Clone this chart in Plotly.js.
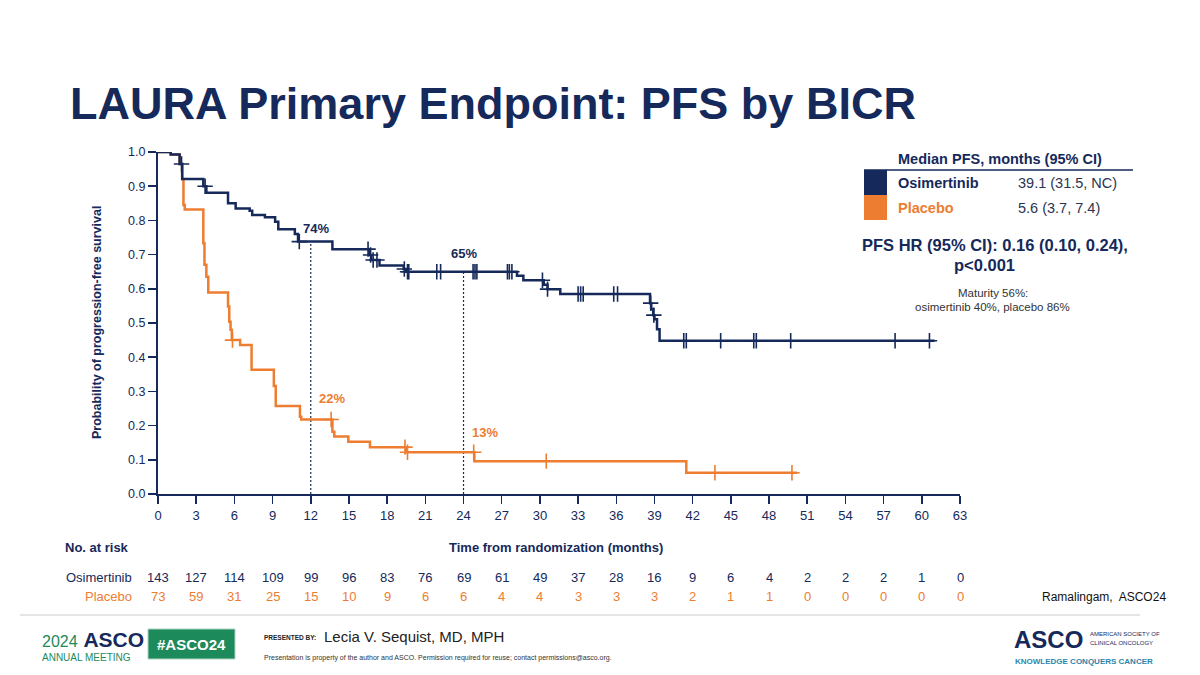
<!DOCTYPE html>
<html><head><meta charset="utf-8">
<script src="https://cdn.plot.ly/plotly-3.0.1.min.js"></script>
<style>html,body{margin:0;padding:0;background:#fff}#chart{width:1200px;height:675px}</style>
</head><body><div id="chart"></div>
<script>
// ---------- DATA ----------
const osiTimes = [0, 1.0, 1.7, 1.9, 3.56, 3.8, 5.5, 6.1, 7.2, 7.4, 8.4, 9.2, 9.45, 10.75, 11.0, 13.7, 16.6, 16.75, 17.4, 19.3, 19.5, 28.2, 28.7, 30.3, 30.6, 31.6, 38.65, 38.75, 38.9, 39.0, 39.2, 39.4];
const osiSurv  = [1.0, 0.993, 0.965, 0.921, 0.900, 0.881, 0.850, 0.835, 0.828, 0.816, 0.809, 0.796, 0.774, 0.760, 0.738, 0.716, 0.699, 0.684, 0.668, 0.658, 0.650, 0.638, 0.625, 0.612, 0.599, 0.585, 0.558, 0.540, 0.523, 0.511, 0.482, 0.448];
const osiEnd = 61.0;
const osiCensor = [1.85, 3.7, 11.1, 16.5, 16.7, 16.9, 17.2, 19.35, 19.6, 19.7, 21.9, 22.2, 24.75, 24.9, 25.05, 27.45, 27.6, 27.8, 30.2, 30.6, 33.0, 33.2, 33.4, 35.8, 36.1, 38.7, 38.95, 41.3, 41.5, 44.2, 46.8, 47.0, 49.7, 57.9, 60.6];

const pboTimes = [0, 1.0, 1.7, 1.9, 2.0, 2.1, 3.56, 3.65, 3.8, 3.95, 5.5, 5.6, 5.7, 5.8, 6.45, 7.35, 9.1, 9.25, 11.15, 11.25, 13.7, 13.85, 14.95, 16.65, 19.5, 24.85, 41.5];
const pboSurv  = [1.0, 0.993, 0.965, 0.921, 0.845, 0.832, 0.733, 0.670, 0.635, 0.589, 0.548, 0.504, 0.480, 0.450, 0.436, 0.363, 0.316, 0.257, 0.226, 0.218, 0.182, 0.168, 0.153, 0.137, 0.122, 0.096, 0.062];
const pboEnd = 50.2;
const pboCensor = [5.85, 13.6, 19.4, 19.6, 24.8, 30.5, 43.75, 49.8];

const landmarkMonths = [12, 24];
const landmarkOsi = [0.738, 0.650];
const landmarkLabelsOsi = ["74%", "65%"];
const landmarkLabelsPbo = ["22%", "13%"];

const riskTimes = [0, 3, 6, 9, 12, 15, 18, 21, 24, 27, 30, 33, 36, 39, 42, 45, 48, 51, 54, 57, 60, 63];
const riskOsi = [143, 127, 114, 109, 99, 96, 83, 76, 69, 61, 49, 37, 28, 16, 9, 6, 4, 2, 2, 2, 1, 0];
const riskPbo = [73, 59, 31, 25, 15, 10, 9, 6, 6, 4, 4, 3, 3, 3, 2, 1, 1, 0, 0, 0, 0, 0];

const yTickVals = [0, 0.1, 0.2, 0.3, 0.4, 0.5, 0.6, 0.7, 0.8, 0.9, 1.0];
const yTickText = ["0.0", "0.1", "0.2", "0.3", "0.4", "0.5", "0.6", "0.7", "0.8", "0.9", "1.0"];

// ---------- STYLE ----------
const NAVY = '#15295a';
const ORANGE = '#ed7d31';
const GREEN = '#1d8a5c';
const FONT = 'Liberation Sans, Arial, sans-serif';
const L = 158, R = 960, T = 152, B = 494;
const px = x => (x - L) / (R - L);
const py = y => (B - y) / (B - T);

function survAt(times, surv, t) {
  let s = surv[0];
  for (let i = 0; i < times.length; i++) { if (times[i] <= t) s = surv[i]; }
  return s;
}
function stepTrace(times, surv, end, color) {
  return { x: times.concat([end]), y: surv.concat([surv[surv.length - 1]]), type: 'scatter', mode: 'lines',
    line: { shape: 'hv', color: color, width: 2.5 }, hoverinfo: 'skip', showlegend: false, cliponaxis: false };
}
function censorTrace(times, surv, cens, color) {
  return { x: cens, y: cens.map(t => survAt(times, surv, t)), type: 'scatter', mode: 'markers',
    marker: { symbol: 'cross-thin-open', size: 11, color: color, line: { color: color, width: 1.6 } }, showlegend: false, hoverinfo: 'skip', cliponaxis: false };
}

const traces = [];
landmarkMonths.forEach((m, i) => {
  traces.push({ x: [m, m], y: [0, landmarkOsi[i]], type: 'scatter', mode: 'lines',
    line: { color: NAVY, width: 1.2, dash: '2px,2px' }, showlegend: false, hoverinfo: 'skip' });
});
traces.push(stepTrace(pboTimes, pboSurv, pboEnd, ORANGE));
traces.push(censorTrace(pboTimes, pboSurv, pboCensor, ORANGE));
traces.push(stepTrace(osiTimes, osiSurv, osiEnd, NAVY));
traces.push(censorTrace(osiTimes, osiSurv, osiCensor, NAVY));

const ann = [];
function txt(x, y, text, opts) {
  ann.push(Object.assign({ xref: 'paper', yref: 'paper', x: px(x), y: py(y), text: text, showarrow: false,
    xanchor: 'left', yanchor: 'middle', font: { family: FONT, size: 13, color: NAVY } }, opts || {}));
}
// landmark labels
ann.push({ x: 12.4, y: 0.777, xref: 'x', yref: 'y', text: '<b>' + landmarkLabelsOsi[0] + '</b>', showarrow: false, font: { family: FONT, size: 13, color: NAVY } });
ann.push({ x: 24.0, y: 0.704, xref: 'x', yref: 'y', text: '<b>' + landmarkLabelsOsi[1] + '</b>', showarrow: false, font: { family: FONT, size: 13, color: NAVY } });
ann.push({ x: 13.7, y: 0.28, xref: 'x', yref: 'y', text: '<b>' + landmarkLabelsPbo[0] + '</b>', showarrow: false, font: { family: FONT, size: 13, color: ORANGE } });
ann.push({ x: 25.7, y: 0.181, xref: 'x', yref: 'y', text: '<b>' + landmarkLabelsPbo[1] + '</b>', showarrow: false, font: { family: FONT, size: 13, color: ORANGE } });

// axis titles
txt(97, 323, '<b>Probability of progression-free survival</b>', { xanchor: 'center', textangle: -90, font: { family: FONT, size: 12.5, color: NAVY } });
txt(556, 547, '<b>Time from randomization (months)</b>', { xanchor: 'center', font: { family: FONT, size: 13, color: NAVY } });
txt(97, 547, '<b>No. at risk</b>', { xanchor: 'center', font: { family: FONT, size: 13, color: NAVY } });

// at-risk table
txt(134, 577, 'Osimertinib', { xanchor: 'right', font: { family: FONT, size: 13, color: NAVY } });
txt(134, 596, 'Placebo', { xanchor: 'right', font: { family: FONT, size: 13, color: ORANGE } });
riskTimes.forEach((t, i) => {
  ann.push({ xref: 'x', yref: 'paper', x: t, y: py(577), text: String(riskOsi[i]), showarrow: false, xanchor: 'center', yanchor: 'middle', font: { family: FONT, size: 13, color: NAVY } });
  ann.push({ xref: 'x', yref: 'paper', x: t, y: py(596), text: String(riskPbo[i]), showarrow: false, xanchor: 'center', yanchor: 'middle', font: { family: FONT, size: 13, color: ORANGE } });
});

// right panel
txt(1000, 159, '<b>Median PFS, months (95% CI)</b>', { xanchor: 'center', font: { family: FONT, size: 14.5, color: NAVY } });
txt(896, 183, '<b>Osimertinib</b>', { font: { family: FONT, size: 14.5, color: NAVY } });
txt(1016, 183, '39.1 (31.5, NC)', { font: { family: FONT, size: 14.5, color: '#2b3550' } });
txt(896, 208, '<b>Placebo</b>', { font: { family: FONT, size: 14.5, color: ORANGE } });
txt(1016, 208, '5.6 (3.7, 7.4)', { font: { family: FONT, size: 14.5, color: '#2b3550' } });
txt(995, 245, '<b>PFS HR (95% CI): 0.16 (0.10, 0.24),</b>', { xanchor: 'center', font: { family: FONT, size: 16.5, color: NAVY } });
txt(985, 265, '<b>p<0.001</b>', { xanchor: 'center', font: { family: FONT, size: 16.5, color: NAVY } });
txt(993, 293, 'Maturity 56%:', { xanchor: 'center', font: { family: FONT, size: 11.5, color: '#333' } });
txt(992, 307, 'osimertinib 40%, placebo 86%', { xanchor: 'center', font: { family: FONT, size: 11.5, color: '#333' } });

txt(1168, 597, 'Ramalingam,  ASCO24', { xanchor: 'right', font: { family: FONT, size: 12, color: '#111' } });

// footer
txt(40, 639, '<span style="color:' + GREEN + ';font-size:16px">2024</span> <b>ASCO</b>', { font: { family: FONT, size: 21, color: NAVY } });
txt(40, 657, 'ANNUAL MEETING', { font: { family: FONT, size: 10, color: GREEN } });
txt(191, 644, '<b>#ASCO24</b>', { xanchor: 'center', font: { family: FONT, size: 15, color: '#ffffff' } });
txt(262, 637, '<b>PRESENTED BY:</b>', { font: { family: FONT, size: 6.5, color: '#222' } });
txt(322, 636, 'Lecia V. Sequist, MD, MPH', { font: { family: FONT, size: 15, color: '#222' } });
txt(262, 658, 'Presentation is property of the author and ASCO. Permission required for reuse; contact permissions@asco.org.', { font: { family: FONT, size: 7, color: '#333' } });
txt(1012, 639, '<b>ASCO</b>', { font: { family: FONT, size: 24, color: NAVY } });
txt(1088, 634, 'AMERICAN SOCIETY OF', { font: { family: FONT, size: 6, color: NAVY } });
txt(1088, 643, 'CLINICAL ONCOLOGY', { font: { family: FONT, size: 6, color: NAVY } });
txt(1013, 661, '<b>KNOWLEDGE CONQUERS CANCER</b>', { font: { family: FONT, size: 8, color: '#2a86ad' } });

const shapes = [
  { type: 'line', xref: 'paper', yref: 'paper', x0: px(864), x1: px(1133), y0: py(170), y1: py(170), line: { color: NAVY, width: 1.5 } },
  { type: 'rect', xref: 'paper', yref: 'paper', x0: px(864), x1: px(887), y0: py(170), y1: py(195), fillcolor: NAVY, line: { width: 0 } },
  { type: 'rect', xref: 'paper', yref: 'paper', x0: px(864), x1: px(887), y0: py(195), y1: py(220), fillcolor: ORANGE, line: { width: 0 } },
  { type: 'line', xref: 'paper', yref: 'paper', x0: px(20), x1: px(1140), y0: py(615), y1: py(615), line: { color: '#dddddd', width: 1.5 } },
  { type: 'rect', xref: 'paper', yref: 'paper', x0: px(148), x1: px(235), y0: py(629), y1: py(659), fillcolor: GREEN, line: { color: '#aad5c0', width: 1 } }
];

const layout = {
  width: 1200, height: 675,
  margin: { l: L, r: 1200 - R, t: T, b: 675 - B, pad: 0 },
  paper_bgcolor: '#fff', plot_bgcolor: '#fff',
  title: { text: '<b>LAURA Primary Endpoint: PFS by BICR</b>', x: 70 / 1200, xanchor: 'left', xref: 'container', y: 1 - 103 / 675, yanchor: 'middle', yref: 'container',
    font: { family: FONT, size: 45, color: NAVY } },
  xaxis: { range: [0, 63], tickmode: 'array', tickvals: riskTimes, ticks: 'outside', ticklen: 8, tickwidth: 1.5, tickcolor: NAVY,
    showline: true, linecolor: NAVY, linewidth: 2, showgrid: false, zeroline: false, fixedrange: true,
    tickfont: { family: FONT, size: 13, color: NAVY } },
  yaxis: { range: [0, 1], tickmode: 'array', tickvals: yTickVals, ticktext: yTickText, ticks: 'outside', ticklen: 8, tickwidth: 1.5, tickcolor: NAVY,
    showline: true, linecolor: NAVY, linewidth: 2, showgrid: false, zeroline: false, fixedrange: true,
    tickfont: { family: FONT, size: 12.5, color: NAVY } },
  showlegend: false,
  annotations: ann,
  shapes: shapes
};
Plotly.newPlot('chart', traces, layout, { staticPlot: true, displayModeBar: false });
</script>
</body></html>
